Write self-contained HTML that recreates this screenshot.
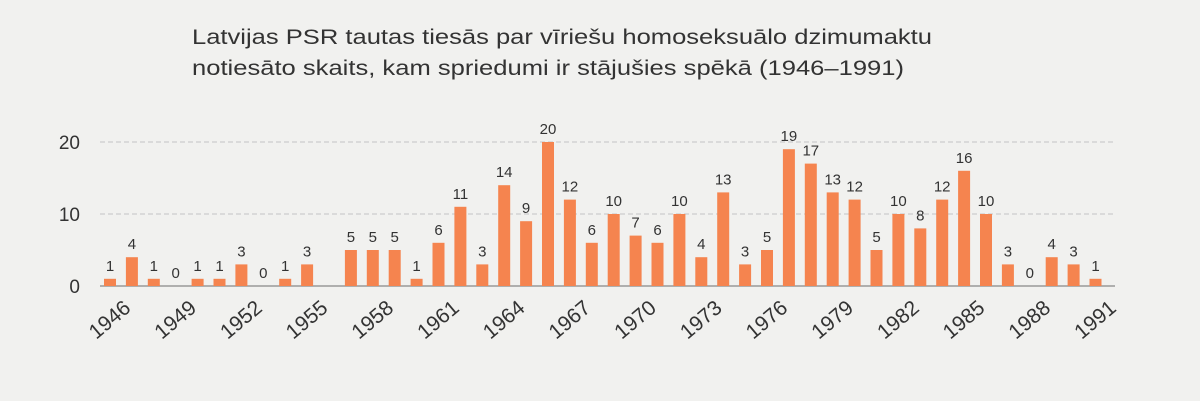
<!DOCTYPE html>
<html><head><meta charset="utf-8">
<style>
html,body{margin:0;padding:0;background:#f1f1ef;}
svg{display:block;font-family:"Liberation Sans",sans-serif;}
</style></head>
<body>
<svg id="chart" width="1200" height="401" viewBox="0 0 1200 401">
<rect x="0" y="0" width="1200" height="401" fill="#f1f1ef"/>
<text x="192" y="44" font-size="21" fill="#333" textLength="740" lengthAdjust="spacingAndGlyphs">Latvijas PSR tautas tiesās par vīriešu homoseksuālo dzimumaktu</text>
<text x="192" y="75" font-size="21" fill="#333" textLength="712" lengthAdjust="spacingAndGlyphs">notiesāto skaits, kam spriedumi ir stājušies spēkā (1946–1991)</text>
<g id="grid"></g>
<g id="bars"></g>
<g id="labels"></g>
<g id="xticks"></g>
</svg>
<script>
const years = [1946,1947,1948,1949,1950,1951,1952,1953,1954,1955,1956,1957,1958,1959,1960,1961,1962,1963,1964,1965,1966,1967,1968,1969,1970,1971,1972,1973,1974,1975,1976,1977,1978,1979,1980,1981,1982,1983,1984,1985,1986,1987,1988,1989,1990,1991];
const counts = [1,4,1,0,1,1,3,0,1,3,null,5,5,5,1,6,11,3,14,9,20,12,6,10,7,6,10,4,13,3,5,19,17,13,12,5,10,8,12,16,10,3,0,4,3,1];
const yTicks = [0,10,20];
const xTickLabels = [1946,1949,1952,1955,1958,1961,1964,1967,1970,1973,1976,1979,1982,1985,1988,1991];

const NS = "http://www.w3.org/2000/svg";
const x0 = 110, step = 21.9, baseY = 286, pxPerUnit = 7.2, barW = 12;
function xScale(year){ return x0 + (year - years[0]) * step; }
function yScale(v){ return baseY - v * pxPerUnit; }
function mk(tag, attrs, parent){
  const el = document.createElementNS(NS, tag);
  for (const k in attrs) el.setAttribute(k, attrs[k]);
  parent.appendChild(el);
  return el;
}
const grid = document.getElementById('grid');
yTicks.forEach(t => {
  const y = yScale(t);
  const line = mk('line', {x1:100, x2:1115, y1:y, y2:y, stroke: t===0 ? '#888' : '#c4c4c4', 'stroke-width': t===0 ? 1.2 : 1, 'stroke-dasharray': t===0 ? '' : '5,3'}, grid);
  
  
  const lbl = mk('text', {x:80, y:y+7, 'font-size':19, fill:'#333', 'text-anchor':'end'}, grid);
  lbl.textContent = t;
  
  
});
const bars = document.getElementById('bars');
const labels = document.getElementById('labels');
years.forEach((yr, i) => {
  const v = counts[i];
  if (v === null) return;
  const cx = xScale(yr);
  if (v > 0) {
    const r = mk('rect', {x:cx-barW/2, y:yScale(v), width:barW, height:v*pxPerUnit, fill:'#f5844f'}, bars);
    
    
  }
  const t = mk('text', {x:cx, y:yScale(v)-8, 'font-size':15, fill:'#333', 'text-anchor':'middle'}, labels);
  t.textContent = v;
  
  
});
const xt = document.getElementById('xticks');
xTickLabels.forEach(yr => {
  const x = xScale(yr) + 22, y = 310;
  const t = mk('text', {x:x, y:y, 'font-size':21, fill:'#333', 'text-anchor':'end', transform:'rotate(-40 '+x+' '+y+')'}, xt);
  t.textContent = yr;
  
  
});
</script>
</body></html>
